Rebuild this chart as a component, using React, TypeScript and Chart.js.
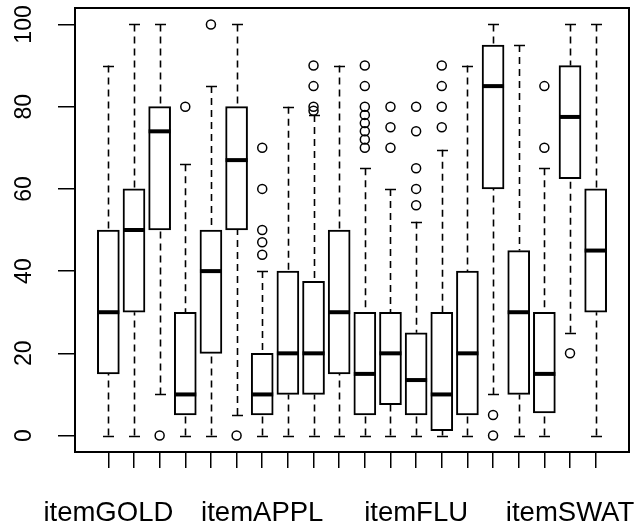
import React, { useEffect, useRef } from "react";
import { Chart, registerables } from "chart.js";
Chart.register(...registerables);

const categories = ["itemGOLD", "", "", "", "", "", "itemAPPL", "", "", "", "", "", "itemFLU", "", "", "", "", "", "itemSWAT", ""];
const positions = categories.map((_, i) => i + 1);
const whiskerLow = [0, 0, 10, 0, 0, 5, 0, 0, 0, 0, 0, 0, 0, 0, 0, 10, 0, 0, 25, 0];
const q1 = [15, 30, 50, 5, 20, 50, 5, 10, 10, 15, 5, 7.5, 5, 1.2, 5, 60, 10, 5.5, 62.5, 30];
const median = [30, 50, 74, 10, 40, 67, 10, 20, 20, 30, 15, 20, 13.5, 10, 20, 85, 30, 15, 77.5, 45];
const q3 = [50, 60, 80, 30, 50, 80, 20, 40, 37.5, 50, 30, 30, 25, 30, 40, 95, 45, 30, 90, 60];
const whiskerHigh = [90, 100, 100, 66, 85, 100, 40, 80, 78, 90, 65, 60, 52, 69.5, 90, 100, 95, 65, 100, 100];
const outliers = [
  [], [], [0], [80], [100], [0], [70, 60, 50, 47, 44], [], [90, 85, 80, 79], [],
  [90, 85, 80, 78, 76, 74, 72, 70], [80, 75, 70], [80, 74, 65, 60, 56], [90, 85, 80, 75], [],
  [5, 0], [], [85, 70], [20], [],
];
const yTicks = [0, 20, 40, 60, 80, 100];

const BOX_W = 22;

const boxParts = {
  id: "boxParts",
  beforeDatasetsDraw(chart: any) {
    const { ctx, scales } = chart;
    const x = scales.x, y = scales.y;
    ctx.save();
    ctx.strokeStyle = "#000";
    ctx.lineWidth = 1.6;
    positions.forEach((p, i) => {
      const px = Math.round(x.getPixelForValue(p)) + 0.5;
      ctx.setLineDash([7, 5]);
      ctx.beginPath();
      ctx.moveTo(px, y.getPixelForValue(whiskerHigh[i]));
      ctx.lineTo(px, y.getPixelForValue(q3[i]));
      ctx.moveTo(px, y.getPixelForValue(whiskerLow[i]));
      ctx.lineTo(px, y.getPixelForValue(q1[i]));
      ctx.stroke();
      ctx.setLineDash([]);
      ctx.beginPath();
      const half = BOX_W / 4;
      [whiskerHigh[i], whiskerLow[i]].forEach((v) => {
        const py = Math.round(y.getPixelForValue(v)) + 0.5;
        ctx.moveTo(px - half, py);
        ctx.lineTo(px + half, py);
      });
      ctx.stroke();
    });
    ctx.restore();
  },
  afterDatasetsDraw(chart: any) {
    const { ctx, scales } = chart;
    const x = scales.x, y = scales.y;
    ctx.save();
    ctx.strokeStyle = "#000";
    ctx.lineWidth = 4;
    positions.forEach((p, i) => {
      const px = x.getPixelForValue(p);
      const py = y.getPixelForValue(median[i]);
      ctx.beginPath();
      ctx.moveTo(px - BOX_W / 2, py);
      ctx.lineTo(px + BOX_W / 2, py);
      ctx.stroke();
    });
    ctx.restore();
  },
  afterDraw(chart: any) {
    const { ctx, chartArea } = chart;
    ctx.save();
    ctx.strokeStyle = "#000";
    ctx.lineWidth = 2;
    ctx.strokeRect(chartArea.left, chartArea.top, chartArea.right - chartArea.left, chartArea.bottom - chartArea.top);
    ctx.restore();
  },
};

export default function App() {
  const ref = useRef<HTMLCanvasElement | null>(null);
  useEffect(() => {
    if (!ref.current) return;
    const outlierPoints: { x: number; y: number }[] = [];
    outliers.forEach((list, i) => list.forEach((v) => outlierPoints.push({ x: positions[i], y: v })));
    const chart = new Chart(ref.current, {
      type: "bar",
      data: {
        datasets: [
          {
            type: "scatter",
            data: outlierPoints,
            pointStyle: "circle",
            pointRadius: 4.5,
            pointBorderWidth: 1.5,
            pointBorderColor: "#000",
            pointBackgroundColor: "rgba(0,0,0,0)",
          } as any,
          {
            type: "bar",
            data: positions.map((p, i) => ({ x: p, y: [q1[i], q3[i]] })),
            backgroundColor: "#fff",
            borderColor: "#000",
            borderWidth: 2,
            borderSkipped: false,
            barThickness: BOX_W,
          } as any,
        ],
      },
      options: {
        animation: false,
        responsive: true,
        maintainAspectRatio: false,
        layout: { padding: { top: 8, right: 6, left: 0, bottom: 0 } },
        plugins: { legend: { display: false }, tooltip: { enabled: false } },
        scales: {
          x: {
            type: "linear",
            offset: false,
            min: -0.3,
            max: 21.3,
            afterBuildTicks: (s: any) => {
              s.ticks = positions.map((v) => ({ value: v }));
            },
            afterFit: (s: any) => {
              s.height = 79;
              s.paddingLeft = 0;
              s.paddingRight = 0;
            },
            grid: { offset: false, drawOnChartArea: false, drawTicks: true, tickLength: 16, color: "#000", lineWidth: 1.5 },
            border: { display: false },
            ticks: {
              autoSkip: false,
              maxRotation: 0,
              minRotation: 0,
              padding: 29,
              color: "#000",
              font: { family: "Liberation Sans", size: 27.5 },
              callback: (_v: any, index: number) => categories[index],
            },
          },
          y: {
            type: "linear",
            min: -4,
            max: 104,
            afterBuildTicks: (s: any) => {
              s.ticks = yTicks.map((v) => ({ value: v }));
            },
            afterFit: (s: any) => {
              s.width = 75;
              s.paddingTop = 0;
              s.paddingBottom = 0;
            },
            grid: { drawOnChartArea: false, drawTicks: true, tickLength: 17, color: "#000", lineWidth: 1.5 },
            border: { display: false },
            ticks: {
              minRotation: 90,
              maxRotation: 90,
              crossAlign: "center",
              padding: 14,
              color: "#000",
              font: { family: "Liberation Sans", size: 23 },
              callback: (v: any) => String(v),
            },
          },
        },
      },
      plugins: [boxParts],
    } as any);
    return () => chart.destroy();
  }, []);
  return (
    <div style={{ position: "fixed", left: 0, top: 0, width: 635, height: 531, background: "#fff" }}>
      <canvas ref={ref} />
    </div>
  );
}
